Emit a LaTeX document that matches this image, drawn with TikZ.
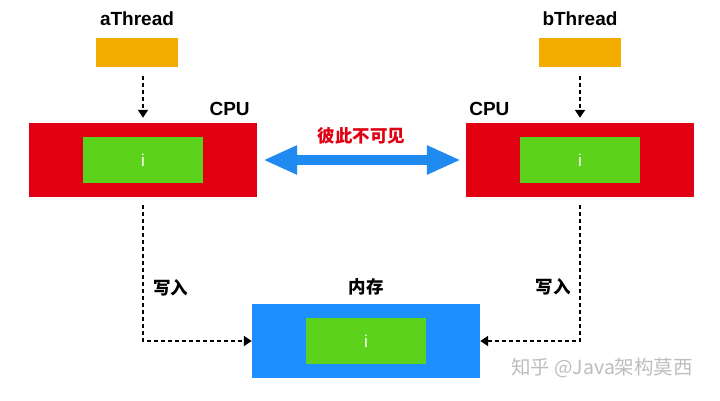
\documentclass[tikz,border=0pt]{standalone}
\usepackage{fontspec}
\setmainfont{Liberation Sans}
\newfontfamily\cjk{Noto Sans CJK SC}
\usepackage{tikz}
\usetikzlibrary{positioning, arrows.meta}
\definecolor{cpuRed}{HTML}{E00012}
\definecolor{varGreen}{HTML}{5CD21C}
\definecolor{threadOrange}{HTML}{F2AC00}
\definecolor{memBlue}{HTML}{1E8FFF}
\definecolor{syncBlue}{HTML}{1F8AEF}
\definecolor{markGray}{HTML}{BDBDBD}

\begin{document}
\begin{tikzpicture}[x=1pt, y=-1pt,
        every node/.style={font=\bfseries\fontsize{19}{22}\selectfont},
        threadBox/.style={rectangle, fill=threadOrange, inner sep=0pt,
                          minimum width=82pt, minimum height=29pt},
        cpuBox/.style={rectangle, fill=cpuRed, inner sep=0pt,
                       minimum width=228pt, minimum height=74pt},
        memBox/.style={rectangle, fill=memBlue, inner sep=0pt,
                       minimum width=228pt, minimum height=74pt},
        varBox/.style={rectangle, fill=varGreen, inner sep=0pt, text=white,
                       minimum width=120pt, minimum height=46pt,
                       font=\fontsize{17}{20}\selectfont},
        cnLabel/.style={font=\cjk\bfseries\fontsize{17.5}{20}\selectfont},
        flow/.style={line width=2.2pt, dash pattern=on 4pt off 3pt,
                     -{Triangle[length=8pt, width=10pt]}},
        syncArrow/.style={syncBlue, line width=10pt,
                          {Triangle[length=34pt, width=27pt]}-{Triangle[length=34pt, width=27pt]}},
      ]
        \useasboundingbox (0,0) rectangle (720,400);

        % threads
        \node[threadBox] (aT) at (137,52) {};
        \node[above=8pt of aT] (aTname) {aThread};
        \node[threadBox] (bT) at (580,52) {};
        \node[above=8pt of bT] (bTname) {bThread};

        % cpu caches
        \node[cpuBox] (cpuA) at (143,160) {};
        \node[varBox] (varA) at (cpuA) {i};
        \node[above left=4pt and 4pt of cpuA.north east] (cpuAname) {CPU};
        \node[cpuBox] (cpuB) at (580,160) {};
        \node[varBox] (varB) at (cpuB) {i};
        \node[above right=4pt and 0pt of cpuB.north west] (cpuBname) {CPU};

        % main memory
        \node[memBox] (mem) at (366,341) {};
        \node[varBox] (varM) at (mem) {i};
        \node[cnLabel, above=5pt of mem] (memName) {内存};

        \draw[flow, shorten <=9pt, shorten >=5pt] (aT.south -| cpuA.north) -- (cpuA.north);
        \draw[flow, shorten <=9pt, shorten >=5pt] (bT.south -| cpuB.north) -- (cpuB.north);

        \draw[syncArrow, shorten <=6pt, shorten >=5pt] (cpuA) --
              node[cnLabel, text=cpuRed, above=7pt] (blind) {彼此不可见} (cpuB);

        \draw[flow, shorten <=8pt] (cpuA.south) |-
              node[cnLabel, pos=0.316, right=6pt] (writeA) {写入} (mem.west);
        \draw[flow, shorten <=8pt] (cpuB.south) |-
              node[cnLabel, pos=0.313, left=5pt] (writeB) {写入} (mem.east);

        \node[font=\cjk\fontsize{19.5}{22}\selectfont, text=markGray] (zhihu) at (602,368) {知乎 @Java架构莫西};
      \end{tikzpicture}
\end{document}
